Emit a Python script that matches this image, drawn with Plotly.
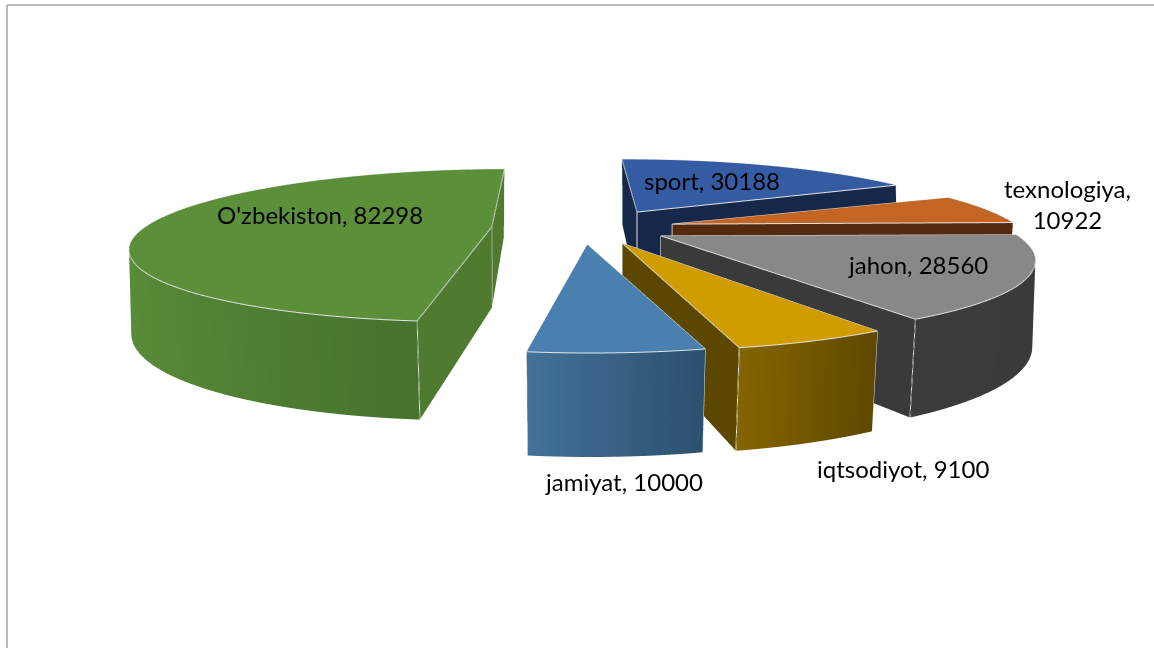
import numpy as np
import plotly.graph_objects as go

categories = ["O'zbekiston", "sport", "texnologiya", "jahon", "iqtsodiyot", "jamiyat"]
values = [82298, 30188, 10922, 28560, 9100, 10000]
explode = [0.29, 0.27, 0.24, 0.22, 0.22, 0.22]
explode_turn = [0, 0, 0, 0, 0, 7]
nudge_deg = [0, 0, 3, 3.5, 3, 1.5]

top_colors = ["#5B8F3A", "#355CA3", "#C46524", "#888888", "#D19C00", "#4A80B0"]
side_light = ["#5B8F3A", "#16284A", "#54290F", "#3C3C3C", "#866500", "#44729A"]
side_dark = ["#44702C", "#16284A", "#54290F", "#3A3A3A", "#5F4800", "#2C5070"]
cut_colors = ["#4F7A2F", "#16284A", "#54290F", "#3A3A3A", "#5C4700", "#2C5070"]

label_text = ["O'zbekiston, 82298", "sport, 30188", "texnologiya,<br>10922", "jahon, 28560",
              "iqtsodiyot, 9100", "jamiyat, 10000"]
label_x = [320, 712, 1067, 918, 903, 624]
label_y = [214, 180, 204, 265, 468, 481]

START_ANGLE = 186.0
THICK = 0.495
WALL_SPREAD = 1.05
XC = -0.045
W, H = 1154, 648


def lerp_hex(a, b, t):
    a = np.array([int(a[i:i + 2], 16) for i in (1, 3, 5)], float)
    b = np.array([int(b[i:i + 2], 16) for i in (1, 3, 5)], float)
    c = a + (b - a) * t
    return "rgb(%d,%d,%d)" % tuple(c)


def low(x):
    # foot of a wall: keeps the walls upright on screen
    return XC + (x - XC) * WALL_SPREAD


fig = go.Figure()
total = sum(values)
angle = START_ANGLE
for i, v in enumerate(values):
    sweep = v / total * 360.0
    start = angle + nudge_deg[i]
    a = np.radians(np.linspace(start, start + sweep, max(int(sweep), 4) + 1))
    mid = np.radians(start + sweep / 2 + explode_turn[i])
    ox, oy = explode[i] * np.sin(mid), explode[i] * np.cos(mid)
    px, py = ox + np.sin(a), oy + np.cos(a)
    n = len(a)
    X, Y, Z, C, I, J, K = [], [], [], [], [], [], []

    def add(x, y, z, c):
        X.append(x); Y.append(y); Z.append(z); C.append(c)
        return len(X) - 1

    ap = add(ox, oy, 0, top_colors[i])
    idx = [add(px[k], py[k], 0, top_colors[i]) for k in range(n)]
    for k in range(n - 1):
        I.append(ap); J.append(idx[k]); K.append(idx[k + 1])
    t = (px - px.min()) / (px.max() - px.min())
    u = [add(px[k], py[k], 0, lerp_hex(side_light[i], side_dark[i], t[k])) for k in range(n)]
    d = [add(low(px[k]), py[k], -THICK, lerp_hex(side_light[i], side_dark[i], t[k])) for k in range(n)]
    for k in range(n - 1):
        I += [u[k], u[k + 1]]; J += [d[k], d[k]]; K += [u[k + 1], d[k + 1]]
    for end in (0, n - 1):
        q = [add(ox, oy, 0, cut_colors[i]), add(px[end], py[end], 0, cut_colors[i]),
             add(low(px[end]), py[end], -THICK, cut_colors[i]), add(low(ox), oy, -THICK, cut_colors[i])]
        I += [q[0], q[0]]; J += [q[1], q[2]]; K += [q[2], q[3]]
    fig.add_trace(go.Mesh3d(x=X, y=Y, z=Z, i=I, j=J, k=K, vertexcolor=C, flatshading=True,
                            lighting=dict(ambient=1, diffuse=0, specular=0, roughness=1, fresnel=0),
                            hoverinfo="skip", name=categories[i], showscale=False))
    lx = [ox] + list(px) + [ox, None, px[0], low(px[0]), None, px[-1], low(px[-1]), None, ox, low(ox)]
    ly = [oy] + list(py) + [oy, None, py[0], py[0], None, py[-1], py[-1], None, oy, oy]
    lz = [0] * (n + 2) + [None, 0, -THICK, None, 0, -THICK, None, 0, -THICK]
    fig.add_trace(go.Scatter3d(x=lx, y=ly, z=lz, mode="lines", line=dict(color="#E4E4E4", width=2),
                               hoverinfo="skip", showlegend=False))
    angle += sweep

shift = dict(x=-0.04, y=0.0, z=-0.285)
base_eye = dict(x=0.0, y=-1.965, z=0.99)

fig.update_layout(
    width=W, height=H, margin=dict(l=0, r=0, t=0, b=0), paper_bgcolor="white", showlegend=False,
    scene=dict(
        domain=dict(x=[0, 1], y=[0, 1]),
        xaxis=dict(visible=False, range=[-2, 2]),
        yaxis=dict(visible=False, range=[-2, 2]),
        zaxis=dict(visible=False, range=[-2, 2]),
        aspectmode="manual",
        aspectratio=dict(x=3.68, y=2.25, z=1.92),
        camera=dict(eye={k: base_eye[k] + shift[k] for k in base_eye}, center=shift,
                    up=dict(x=0, y=0, z=1), projection=dict(type="perspective")),
    ),
    shapes=[dict(type="line", xref="paper", yref="paper", x0=7 / W, x1=7 / W, y0=0, y1=1 - 5 / H,
                 line=dict(color="#A6A6A6", width=1.5)),
            dict(type="line", xref="paper", yref="paper", x0=7 / W, x1=1, y0=1 - 5 / H, y1=1 - 5 / H,
                 line=dict(color="#A6A6A6", width=1.5))],
    annotations=[dict(text=t, x=x / W, y=1 - y / H, xref="paper", yref="paper", showarrow=False,
                      xanchor="center", yanchor="middle",
                      font=dict(family="Lato", size=24, color="#000000"), align="center")
                 for t, x, y in zip(label_text, label_x, label_y)],
)
fig.write_html("out.html", config=dict(displayModeBar=False),
               post_script="document.body.style.margin='0';document.body.style.overflow='hidden';")
